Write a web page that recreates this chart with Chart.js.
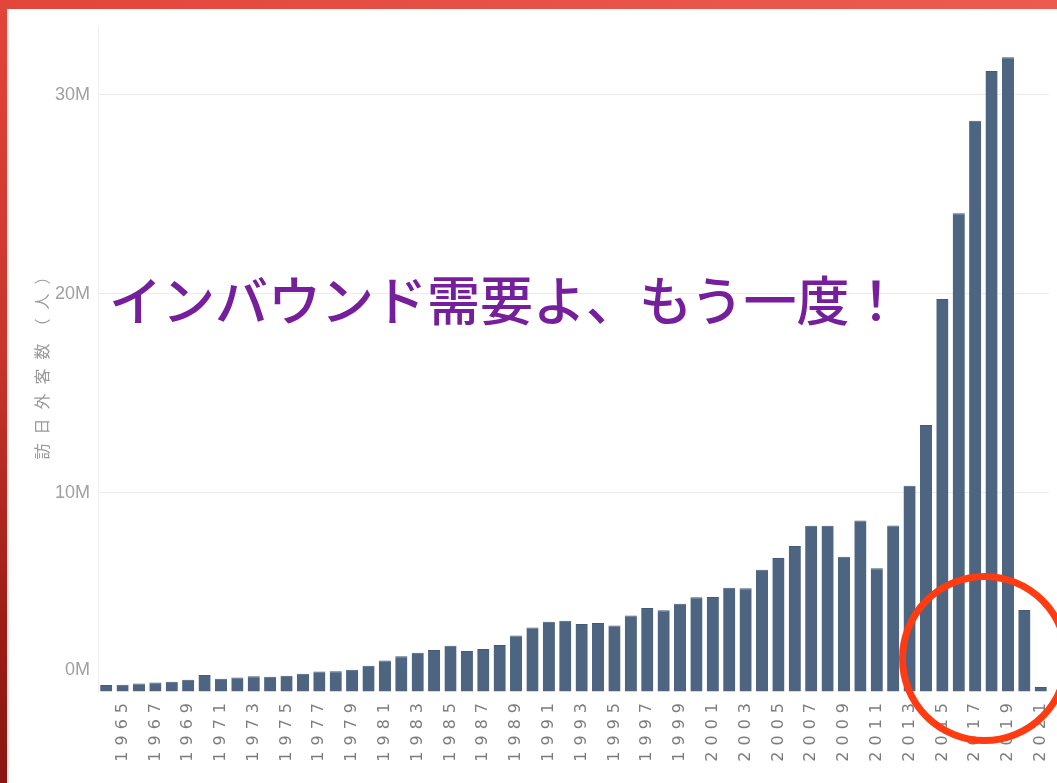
<!DOCTYPE html>
<html lang="ja">
<head>
<meta charset="utf-8">
<script src="https://cdn.jsdelivr.net/npm/chart.js@4.4.1/dist/chart.umd.min.js"></script>
<style>
  html, body { margin: 0; padding: 0; width: 1057px; height: 783px; overflow: hidden; background: #fff; }
  #wrap { position: absolute; left: 0; top: 0; width: 1057px; height: 783px; background: #fff; }
  #chartBox { position: absolute; left: 0; top: 0; width: 1057px; height: 783px; }
  #topBand { position: absolute; left: 0; top: 0; width: 1057px; height: 9px;
    background: linear-gradient(90deg, #e2453a 0%, #e8544a 60%, #ec5b50 100%); }
  #leftBand { position: absolute; left: 0; top: 0; width: 7px; height: 783px;
    background: linear-gradient(180deg, #e2453a 0%, #c8352c 45%, #9c1d16 80%, #8a1611 100%); }
  #leftLine { position: absolute; left: 7px; top: 9px; width: 2px; height: 774px; background: #f3e6e4; }
  #headline { position: absolute; left: 109px; top: 270px; white-space: nowrap;
    font-family: "Noto Sans CJK JP", "Noto Sans CJK SC", sans-serif; font-weight: 500;
    font-size: 53px; line-height: 56px; color: #761f9c; letter-spacing: 0px; }
  #ring { position: absolute; left: 899px; top: 573px; width: 171px; height: 171px;
    box-sizing: border-box; border: 7px solid #ff3b12; border-radius: 50%; }
</style>
</head>
<body>
<div id="wrap">
  <div id="chartBox"><canvas id="c" width="1057" height="783"></canvas></div>
  <div id="headline">インバウンド需要よ、もう一度！</div>
  <div id="ring"></div>
  <div id="topBand"></div>
  <div id="leftBand"></div>
  <div id="leftLine"></div>
</div>
<script>
// ---- data ----
const years = [
  1964, 1965, 1966, 1967, 1968, 1969, 1970, 1971, 1972, 1973,
  1974, 1975, 1976, 1977, 1978, 1979, 1980, 1981, 1982, 1983,
  1984, 1985, 1986, 1987, 1988, 1989, 1990, 1991, 1992, 1993,
  1994, 1995, 1996, 1997, 1998, 1999, 2000, 2001, 2002, 2003,
  2004, 2005, 2006, 2007, 2008, 2009, 2010, 2011, 2012, 2013,
  2014, 2015, 2016, 2017, 2018, 2019, 2020, 2021
];
const visitors = [
  353000, 367000, 433000, 477000, 519000, 609000, 854000, 661000, 724000, 785000,
  764000, 812000, 915000, 1028000, 1039000, 1113000, 1317000, 1583000, 1793000, 1968000,
  2110000, 2327000, 2062000, 2155000, 2355000, 2835000, 3236000, 3533000, 3582000, 3410000,
  3468000, 3345000, 3837000, 4218000, 4106000, 4438000, 4757000, 4772000, 5239000, 5212000,
  6138000, 6728000, 7334000, 8347000, 8351000, 6790000, 8611000, 6219000, 8358000, 10364000,
  13413000, 19737000, 24040000, 28691000, 31192000, 31882000, 4116000, 246000
];
const yTicks = [0, 10000000, 20000000, 30000000];
const yAxisTitle = '訪日外客数（人）';

// ---- chart ----
const spacingPlugin = {
  id: 'spacing',
  beforeDraw(chart) {
    const x = chart.scales.x, y = chart.scales.y;
    if (!x._patched) {
      const px = Object.getPrototypeOf(x);
      x.drawLabels = function (ca) {
        const c = this.ctx; c.save(); c.letterSpacing = '6px';
        px.drawLabels.call(this, ca); c.restore();
      };
      x._patched = true;
    }
    if (!y._patched) {
      const py = Object.getPrototypeOf(y);
      y.drawTitle = function () {
        const c = this.ctx; c.save(); c.letterSpacing = '9px';
        py.drawTitle.call(this); c.restore();
      };
      y.getLabelItems = function (ca) {
        const items = py.getLabelItems.call(this, ca);
        if (!items._shifted) {
          items.forEach(it => {
            if (it.label === '0M') {
              const t = it.options.translation;
              it.options.translation = [t[0], t[1] - 22];
            }
          });
          items._shifted = true;
        }
        return items;
      };
      y._patched = true;
    }
  }
};

new Chart(document.getElementById('c'), {
  type: 'bar',
  data: {
    labels: years,
    datasets: [{
      data: visitors,
      backgroundColor: '#4d6580',
      borderColor: '#435a74',
      borderWidth: { top: 1, left: 0, right: 0, bottom: 0 },
      categoryPercentage: 1.0,
      barPercentage: 0.74
    }]
  },
  options: {
    responsive: false,
    animation: false,
    layout: { padding: { left: 20, top: 27, right: 7, bottom: 11 } },
    plugins: { legend: { display: false }, tooltip: { enabled: false } },
    scales: {
      x: {
        grid: { display: false },
        border: { display: false },
        ticks: {
          autoSkip: false,
          maxRotation: 90,
          minRotation: 90,
          padding: -3,
          color: '#7d7d7d',
          font: { family: 'DejaVu Sans', size: 16 },
          callback: function (v, i) { const yr = years[i]; return yr % 2 === 1 ? String(yr) : ''; }
        },
        afterFit(s) { s.height = 80; }
      },
      y: {
        min: 0,
        max: 33400000,
        afterBuildTicks(s) { s.ticks = yTicks.map(v => ({ value: v })); },
        grid: {
          color: (ctx) => (ctx.tick && ctx.tick.value === 0) ? 'rgba(0,0,0,0)' : '#ebebeb',
          drawTicks: false,
          lineWidth: 1
        },
        border: { display: true, color: '#efefef', width: 1 },
        ticks: {
          padding: 8,
          color: '#a0a0a0',
          font: { family: "'Liberation Sans Narrow', 'Liberation Sans', sans-serif", size: 18 },
          callback: (v) => (v / 1000000) + 'M'
        },
        title: {
          display: true,
          text: yAxisTitle,
          color: '#9a9a9a',
          font: { family: "'Noto Sans CJK JP', sans-serif", size: 16 },
          padding: { top: 12, bottom: 0 }
        },
        afterFit(s) { s.width = 78; }
      }
    }
  },
  plugins: [spacingPlugin]
});
</script>
</body>
</html>
